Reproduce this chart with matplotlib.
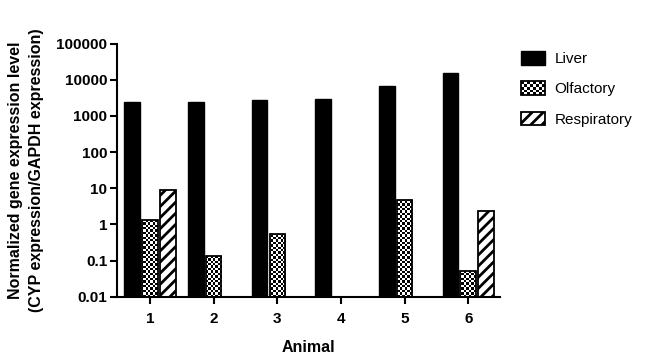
import numpy as np
import matplotlib
matplotlib.use('Agg')
import matplotlib.pyplot as plt
from matplotlib.patches import Rectangle, Patch
from matplotlib.legend_handler import HandlerBase
from matplotlib.ticker import FixedLocator, FixedFormatter, NullLocator

# ---- data ----
animals = ['1', '2', '3', '4', '5', '6']
liver = [2400, 2400, 2750, 2950, 6900, 15000]
olfactory = [1.36, 0.13, 0.54, np.nan, 4.6, 0.051]
respiratory = [8.9, np.nan, np.nan, np.nan, np.nan, 2.3]
series_names = ['Liver', 'Olfactory', 'Respiratory']
ytick_values = [0.01, 0.1, 1, 10, 100, 1000, 10000, 100000]
ytick_labels = ['0.01', '0.1', '1', '10', '100', '1000', '10000', '100000']
x_label = 'Animal'
y_label = 'Normalized gene expression level\n(CYP expression/GAPDH expression)'

plt.rcParams['font.family'] = ['Liberation Sans', 'DejaVu Sans']
plt.rcParams['hatch.linewidth'] = 2.0
plt.rcParams['hatch.color'] = 'black'

W, H = 654, 357
fig = plt.figure(figsize=(W / 100, H / 100), dpi=100)
ax = fig.add_axes([117 / W, 1 - 296.7 / H, (500 - 117) / W, (296.7 - 43.7) / H])
ax.set_yscale('log')
ax.set_xlim(0.48, 6.5)
ax.set_ylim(0.01, 100000)
ax.set_autoscale_on(False)

xpos = np.arange(1, len(animals) + 1)
bw = 0.245
step = 0.28

def valid(vals):
    v = np.asarray(vals, dtype=float)
    m = ~np.isnan(v)
    return m, v

# Liver
m, v = valid(liver)
ax.bar(xpos[m] - step, v[m], width=bw, color='black', edgecolor='black',
       linewidth=1, zorder=2)

# Olfactory (checkerboard)
m, v = valid(olfactory)
olf_bars = ax.bar(xpos[m], v[m], width=bw, color='white', edgecolor='none',
                  linewidth=0, zorder=1)
nrows, ncols = 106, 160
checker = (np.indices((nrows, ncols)).sum(axis=0) % 2).astype(float)
for b in olf_bars:
    im = ax.imshow(checker, cmap='gray', vmin=0, vmax=1, interpolation='nearest',
                   aspect='auto', extent=(0, 1, 0, 1), transform=ax.transAxes,
                   zorder=1.5)
    im.set_clip_path(b)
ax.bar(xpos[m], v[m], width=bw, fill=False, edgecolor='black', linewidth=1.3,
       zorder=3)

# Respiratory (diagonal hatch)
m, v = valid(respiratory)
ax.bar(xpos[m] + step, v[m], width=bw, color='white', edgecolor='black',
       linewidth=1.3, hatch='///', zorder=2)

# ---- axes styling ----
ax.yaxis.set_major_locator(FixedLocator(ytick_values))
ax.yaxis.set_major_formatter(FixedFormatter(ytick_labels))
ax.yaxis.set_minor_locator(NullLocator())
ax.set_xticks(xpos)
ax.set_xticklabels(animals)
for s in ['top', 'right']:
    ax.spines[s].set_visible(False)
for s in ['left', 'bottom']:
    ax.spines[s].set_linewidth(1.5)
ax.tick_params(axis='both', which='major', length=5, width=1.5, labelsize=11)
ax.tick_params(axis='y', pad=2)
ax.tick_params(axis='x', pad=6)
for lab in ax.get_xticklabels() + ax.get_yticklabels():
    lab.set_fontweight('bold')

ax.set_xlabel(x_label, fontsize=11.5, fontweight='bold', labelpad=10)
ax.set_ylabel(y_label, fontsize=11.5, fontweight='bold', labelpad=9,
              linespacing=1.45)

# ---- legend ----
class CheckerHandler(HandlerBase):
    def create_artists(self, legend, orig_handle, xdescent, ydescent,
                       width, height, fontsize, trans):
        x0, y0 = -xdescent, -ydescent
        arts = [Rectangle((x0, y0), width, height, facecolor='white',
                          edgecolor='none', transform=trans)]
        nx, ny = 8, 5
        cw, ch = width / nx, height / ny
        for i in range(nx):
            for j in range(ny):
                if (i + j) % 2 == 0:
                    arts.append(Rectangle((x0 + i * cw, y0 + j * ch), cw, ch,
                                          facecolor='black', edgecolor='none',
                                          transform=trans))
        arts.append(Rectangle((x0, y0), width, height, facecolor='none',
                              edgecolor='black', linewidth=1.3, transform=trans))
        return arts

h_liver = Patch(facecolor='black', edgecolor='black')
h_olf = Patch(facecolor='white', edgecolor='black')
h_resp = Patch(facecolor='white', edgecolor='black', hatch='///', linewidth=1.3)
fig.legend([h_liver, h_olf, h_resp], series_names,
           handler_map={h_olf: CheckerHandler()},
           loc='upper left', bbox_to_anchor=(521 / W, 1 - 51 / H),
           frameon=False, fontsize=11, handlelength=1.55, handleheight=1.0,
           handletextpad=0.65, labelspacing=1.0, borderpad=0, borderaxespad=0)

fig.savefig('out.png', dpi=100)
